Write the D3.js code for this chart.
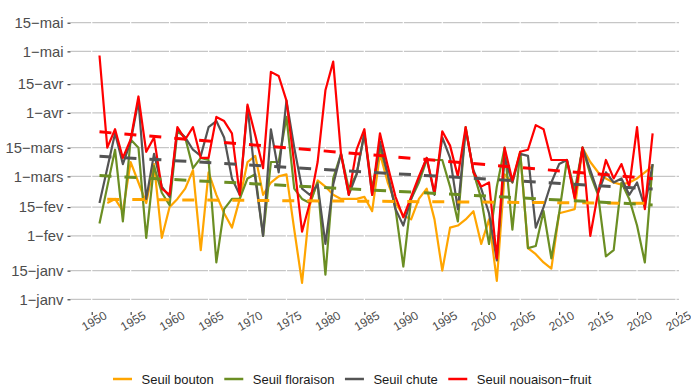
<!DOCTYPE html>
<html>
<head>
<meta charset="utf-8">
<script src="https://cdn.jsdelivr.net/npm/d3@7"></script>
<style>
  body { margin: 0; background: #fff; }
  text { font-family: "Liberation Sans", Arial, Helvetica, sans-serif; }
</style>
</head>
<body>
<svg id="chart" width="691" height="387"></svg>
<script>
// Day-of-year (leap-year calendar) at which each threshold is reached, 1951–2022
const years = d3.range(1951, 2023);

const seuilBouton = [null,48,50,44,68,58,48,67,31,46,50,55,64,25,63,52,43,36,50,68,
  71,52,58,61,62,35,9,47,59,56,52,50,50,50,51,44,72,58,48,42,
  40,50,55,40,15,36,37,40,44,28,40,10,62,58,73,26,23,19,16,43,
  44,45,75,68,63,60,58,57,58,60,63,66];

const seuilFloraison = [38,56,74,39,79,75,31,66,53,47,83,80,65,70,69,19,45,50,50,60,
  62,32,68,68,90,55,50,48,58,13,60,72,55,62,82,55,75,62,45,17,
  50,58,69,69,69,56,39,85,63,50,28,56,75,35,73,26,27,44,21,43,
  69,54,75,62,52,22,25,58,50,37,19,67];

const seuilChute = [48,65,82,67,78,98,50,72,56,51,84,80,74,71,85,88,80,60,52,95,
  60,32,84,63,98,75,55,52,57,28,57,72,52,62,82,52,78,62,45,37,
  50,60,70,52,80,70,45,84,64,55,43,20,70,58,72,71,36,46,58,67,
  69,51,75,64,53,63,58,60,52,58,46,67];

const seuilNouaison = [120,75,84,70,79,100,73,80,55,52,85,79,85,70,70,90,88,82,52,96,
  81,65,112,110,98,67,34,48,68,103,117,72,52,74,84,52,82,66,51,41,
  51,61,70,53,83,76,61,85,63,56,58,21,75,59,73,74,86,84,69,69,
  69,50,75,32,53,69,60,67,56,85,45,82];

const seriesNames = ["Seuil bouton", "Seuil floraison", "Seuil chute", "Seuil nouaison\u2212fruit"];
const seriesColors = ["#FFA500", "#6B8E23", "#545454", "#FF0000"];
const seriesValues = [seuilBouton, seuilFloraison, seuilChute, seuilNouaison];

const yTickDays = [1, 15, 32, 46, 61, 75, 92, 106, 122, 136];
const yTickLabels = ["1\u2212janv", "15\u2212janv", "1\u2212fev", "15\u2212fev", "1\u2212mars",
  "15\u2212mars", "1\u2212avr", "15\u2212avr", "1\u2212mai", "15\u2212mai"];
const xTickYears = d3.range(1950, 2026, 5);

const svg = d3.select("#chart");
const panel = { left: 70.5, right: 679, top: 10, bottom: 312 };

const x = d3.scaleLinear().domain([1950, 2025]).range([91.7, 676]);
const y = d3.scaleLinear().domain([1, 136]).range([299.3, 22.7]);

svg.append("rect").attr("width", 691).attr("height", 387).attr("fill", "#fff");

// horizontal grid
const grid = svg.append("g");
grid.selectAll("line.h").data(yTickDays).join("line")
  .attr("x1", panel.left).attr("x2", panel.right)
  .attr("y1", d => y(d)).attr("y2", d => y(d))
  .attr("stroke", "#c6c6c6").attr("stroke-width", 1.3);
// vertical white grid cutting through
grid.selectAll("line.v").data(xTickYears).join("line")
  .attr("x1", d => x(d)).attr("x2", d => x(d))
  .attr("y1", panel.top).attr("y2", panel.bottom)
  .attr("stroke", "#fff").attr("stroke-width", 1.2);

// y axis
const yAxis = svg.append("g").attr("transform", `translate(${panel.left},0)`)
  .call(d3.axisLeft(y).tickValues(yTickDays).tickFormat((d, i) => yTickLabels[i])
    .tickSize(3).tickPadding(4));
yAxis.select(".domain").remove();
yAxis.selectAll(".tick line").attr("stroke", "#333").attr("stroke-width", 1.1);
yAxis.selectAll(".tick text").attr("fill", "#4d4d4d").attr("font-size", 14.8)
  .attr("font-family", "Liberation Sans, Arial, sans-serif");

// x axis
const xAxis = svg.append("g").attr("transform", `translate(0,${panel.bottom})`)
  .call(d3.axisBottom(x).tickValues(xTickYears).tickFormat(d3.format("d")).tickSize(3));
xAxis.select(".domain").remove();
xAxis.selectAll(".tick line").attr("stroke", "#333").attr("stroke-width", 1.1);
xAxis.selectAll(".tick text")
  .attr("fill", "#4d4d4d").attr("font-size", 12)
  .attr("font-family", "Liberation Sans, Arial, sans-serif")
  .attr("text-anchor", "middle").attr("dy", null).attr("y", null)
  .attr("dominant-baseline", "central")
  .attr("transform", "translate(2,9) rotate(-30)");

// series lines
const line = d3.line()
  .defined(d => d.v != null)
  .x(d => x(d.year)).y(d => y(d.v));

const plot = svg.append("g");
seriesValues.forEach((vals, i) => {
  const pts = years.map((yr, k) => ({ year: yr, v: vals[k] }));
  plot.append("path").datum(pts)
    .attr("d", line).attr("fill", "none")
    .attr("stroke", seriesColors[i]).attr("stroke-width", 2.2)
    .attr("stroke-linejoin", "round");
});

// linear trend for each series
seriesValues.forEach((vals, i) => {
  const pts = years.map((yr, k) => ({ year: yr, v: vals[k] })).filter(d => d.v != null);
  const mx = d3.mean(pts, d => d.year), my = d3.mean(pts, d => d.v);
  const b = d3.sum(pts, d => (d.year - mx) * (d.v - my)) / d3.sum(pts, d => (d.year - mx) ** 2);
  const a = my - b * mx;
  const ends = [pts[0].year, pts[pts.length - 1].year].map(yr => ({ year: yr, v: a + b * yr }));
  plot.append("path").datum(ends)
    .attr("d", line).attr("fill", "none")
    .attr("stroke", seriesColors[i]).attr("stroke-width", 3)
    .attr("stroke-dasharray", "12 13");
});

// legend
const legend = svg.append("g").attr("transform", "translate(113,379)");
let lx = 0;
seriesNames.forEach((name, i) => {
  const g = legend.append("g").attr("transform", `translate(${lx},0)`);
  g.append("line").attr("x1", 0).attr("x2", 19).attr("y1", 0).attr("y2", 0)
    .attr("stroke", seriesColors[i]).attr("stroke-width", 2.5);
  const t = g.append("text").attr("x", 28.5).attr("y", 0).attr("dy", "0.35em")
    .attr("font-size", 13).attr("fill", "#1a1a1a").text(name);
  lx += 28.5 + t.node().getComputedTextLength() + 10.5;
});
</script>
</body>
</html>
